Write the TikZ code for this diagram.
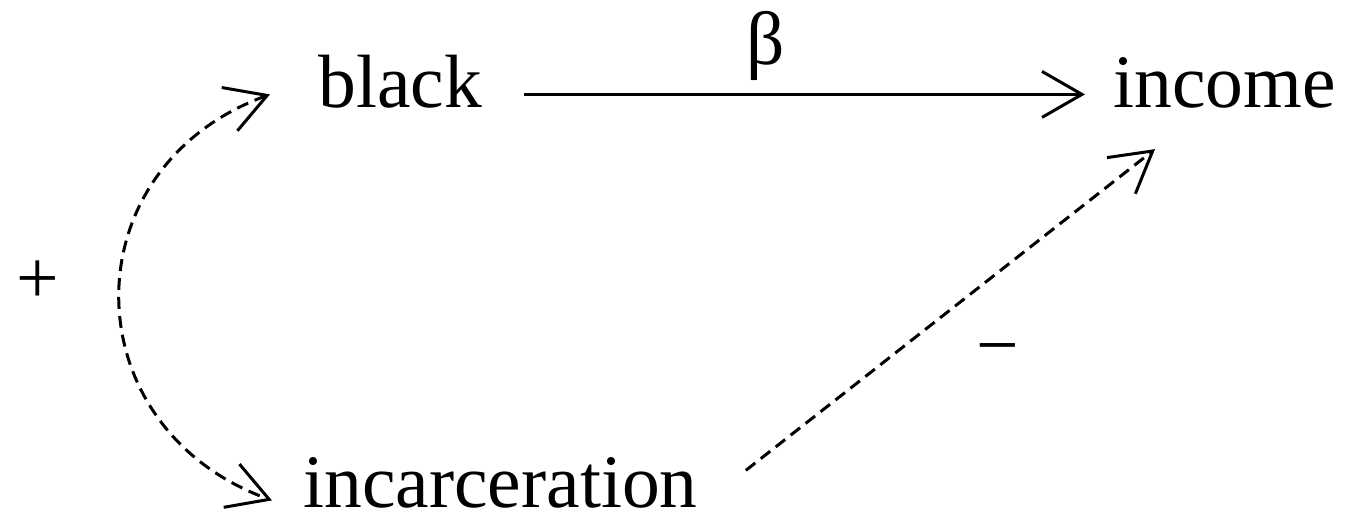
\documentclass[tikz,border=0pt]{standalone}
\usepackage{fontspec}
\setmainfont{Liberation Serif}
\usepackage{tikz}
\usetikzlibrary{arrows.meta}

\tikzset{
  var/.style={inner sep=0pt, anchor=base west, font=\fontsize{37.75}{45}\selectfont},
  sign/.style={inner sep=0pt, font=\fontsize{37.75}{45}\selectfont},
  link/.style={line width=1.5pt, -{Straight Barb[length=20pt, width=23pt, line width=1.5pt]}},
  maybe/.style={link, dash pattern=on 6pt off 3.5pt}
}

\begin{document}
\begin{tikzpicture}[x=0.5pt, y=0.5pt]
    \useasboundingbox (0,0) rectangle (1359,525);

    % Variables
    \node[var] (black) at (318,417) {black};
    \node[var] (income) at (1113,417) {income};
    \node[var] (incarc) at (303,18) {incarceration};

    % Direct effect
    \draw[link, shorten <=21pt, shorten >=14pt] ([yshift=4.5pt]black.mid east) -- ([yshift=4.5pt]income.mid west)
        node[sign, pos=0.45, yshift=24pt] (beta) {β};

    % Correlation
    \draw[maybe, {Straight Barb[length=20pt, width=23pt, line width=1.5pt]}-{Straight Barb[length=20pt, width=23pt, line width=1.5pt]}]
        ([xshift=-24pt, yshift=4.5pt]black.mid west) to[out=200, in=160, looseness=1.35]
        node[sign, pos=0.5, xshift=-41pt, yshift=7.5pt] (plus) {+}
        ([xshift=-15.5pt, yshift=1pt]incarc.mid west);

    % Indirect effect
    \draw[maybe] ([xshift=24pt, yshift=6pt]incarc.east) -- ([xshift=21pt, yshift=-20pt]income.south west)
        node[sign, pos=0.5, xshift=23.5pt, yshift=-23.5pt] (minus) {−};
\end{tikzpicture}
\end{document}
